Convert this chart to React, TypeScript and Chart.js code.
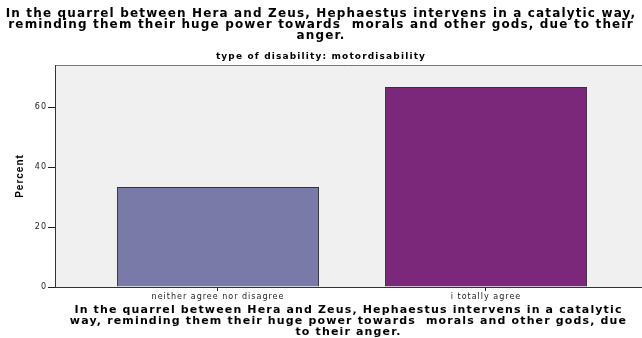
import React, { useEffect, useRef } from "react";
import { Chart, registerables } from "chart.js";

Chart.register(...registerables);

const categories = ["neither agree nor disagree", "i totally agree"];
const percentValues = [33.33, 66.67];
const barColors = ["#7a7aa8", "#7b287b"];
const yTicks = [0, 20, 40, 60];
const titleLines = [
  "In the quarrel between Hera and Zeus, Hephaestus intervens in a catalytic way,",
  "reminding them their huge power towards  morals and other gods, due to their",
  "anger.",
];
const subtitleText = "type of disability: motordisability";
const xTitleLines = [
  "In the quarrel between Hera and Zeus, Hephaestus intervens in a catalytic",
  "way, reminding them their huge power towards  morals and other gods, due",
  "to their anger.",
];
const yTitle = "Percent";

const plotBackground = {
  id: "plotBackground",
  beforeDraw(chart: any) {
    const { ctx, chartArea } = chart;
    if (!chartArea) return;
    ctx.save();
    ctx.fillStyle = "#f0f0f0";
    ctx.fillRect(chartArea.left, chartArea.top, chartArea.right - chartArea.left, chartArea.bottom - chartArea.top);
    ctx.strokeStyle = "#777777";
    ctx.lineWidth = 1;
    ctx.beginPath();
    ctx.moveTo(chartArea.left, chartArea.top + 0.5);
    ctx.lineTo(chartArea.right, chartArea.top + 0.5);
    ctx.stroke();
    ctx.restore();
  },
};

// wide text spacing like the original rendering
const textSpacing = {
  id: "textSpacing",
  beforeDraw(chart: any) {
    chart.ctx.letterSpacing = "1.15px";
  },
  beforeDatasetsDraw(chart: any) {
    chart.ctx.letterSpacing = "0px";
  },
  afterDatasetsDraw(chart: any) {
    chart.ctx.letterSpacing = "1px";
  },
  afterDraw(chart: any) {
    chart.ctx.letterSpacing = "0px";
  },
};

export default function App() {
  const ref = useRef<HTMLCanvasElement | null>(null);
  useEffect(() => {
    if (!ref.current) return;
    const chart = new Chart(ref.current, {
      type: "bar",
      data: {
        datasets: [
          {
            data: categories.map((_, i) => ({ x: i + 1, y: percentValues[i] })),
            backgroundColor: barColors,
            borderColor: "#333333",
            borderWidth: 1,
            categoryPercentage: 1,
            barPercentage: 0.754,
          } as any,
        ],
      },
      options: {
        animation: false,
        responsive: false,
        maintainAspectRatio: false,
        layout: { padding: 0 },
        plugins: {
          legend: { display: false },
          tooltip: { enabled: false },
          title: {
            display: true,
            text: titleLines,
            color: "#000000",
            font: { family: "DejaVu Sans", size: 12, weight: "bold", lineHeight: "11px" },
            padding: { top: 8, bottom: 10 },
          },
          subtitle: {
            display: true,
            text: subtitleText,
            color: "#000000",
            font: { family: "DejaVu Sans", size: 9, weight: "bold", lineHeight: "11px" },
            padding: { top: 0, bottom: 3 },
          },
        },
        scales: {
          x: {
            type: "linear",
            offset: false,
            min: 0.3918,
            max: 2.5821,
            afterBuildTicks: (scale: any) => {
              scale.ticks = categories.map((_, i) => ({ value: i + 1 }));
            },
            afterFit: (scale: any) => {
              scale.height = 51;
            },
            ticks: {
              callback: (v: any) => categories[Math.round(Number(v)) - 1] ?? "",
              color: "#222222",
              font: { family: "DejaVu Sans", size: 8 },
              padding: 1,
              maxRotation: 0,
              autoSkip: false,
              z: 1,
            },
            grid: { display: true, offset: false, drawOnChartArea: false, drawTicks: true, tickLength: 4, color: "#222222", z: -1 },
            border: { display: true, color: "#333333", width: 1, z: 1 },
            title: {
              display: true,
              text: xTitleLines,
              color: "#000000",
              font: { family: "DejaVu Sans", size: 11, weight: "bold", lineHeight: "11px" },
              padding: { top: 0, bottom: 0 },
            },
          },
          y: {
            min: 0,
            max: 74,
            afterBuildTicks: (scale: any) => {
              scale.ticks = yTicks.map((v) => ({ value: v }));
            },
            afterFit: (scale: any) => {
              scale.width = 55;
            },
            ticks: {
              color: "#222222",
              font: { family: "DejaVu Sans", size: 8 },
              padding: 1,
              z: 1,
            },
            grid: { display: true, drawOnChartArea: false, drawTicks: true, tickLength: 7, color: "#222222", z: 1 },
            border: { display: true, color: "#333333", width: 1, z: 1 },
            title: {
              display: true,
              text: yTitle,
              color: "#000000",
              font: { family: "Liberation Sans", size: 10, weight: "bold", lineHeight: "12px" },
              padding: { top: 14, bottom: 0 },
            },
          },
        },
      } as any,
      plugins: [plotBackground, textSpacing],
    });
    return () => chart.destroy();
  }, []);
  return (
    <div style={{ position: "fixed", left: 0, top: 0, width: 642, height: 338, background: "#ffffff" }}>
      <canvas ref={ref} width={642} height={338} style={{ width: 642, height: 338, display: "block" }} />
    </div>
  );
}
